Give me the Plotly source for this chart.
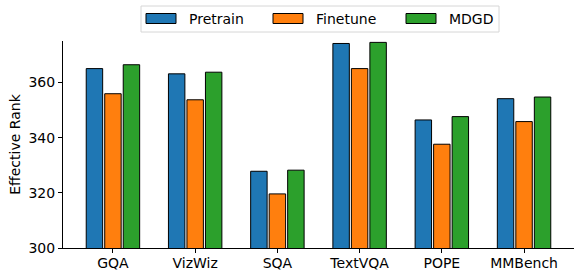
import plotly.graph_objects as go

categories = ["GQA", "VizWiz", "SQA", "TextVQA", "POPE", "MMBench"]
pretrain = [365.0, 363.1, 327.8, 374.1, 346.4, 354.1]
finetune = [355.9, 353.7, 319.6, 365.0, 337.6, 345.8]
mdgd = [366.4, 363.7, 328.2, 374.5, 347.6, 354.7]
yticks = [300, 320, 340, 360]

series = [("Pretrain", pretrain, "#1f77b4", -0.325),
          ("Finetune", finetune, "#ff7f0e", -0.1),
          ("MDGD", mdgd, "#2ca02c", 0.125)]

W, H = 574, 271
L, R, T, B = 63, 0, 41, 23
PW, PH = W - L - R, H - T - B

def px(x):
    return (x - L) / PW

def py(y):
    return (H - B - y) / PH

fig = go.Figure()
for name, vals, color, off in series:
    fig.add_trace(go.Bar(
        x=categories, y=vals, name=name, width=0.2, offset=off,
        marker=dict(color=color, line=dict(color="black", width=1)),
        showlegend=False, hoverinfo="skip",
    ))

shapes = []
annotations = []
# legend box
shapes.append(dict(type="rect", xref="paper", yref="paper",
                   x0=px(141), x1=px(499), y0=py(32), y1=py(6),
                   line=dict(color="#d6d6d6", width=1), fillcolor="white", layer="above"))
legend_x = [146, 273, 406]
for (name, vals, color, off), lx in zip(series, legend_x):
    shapes.append(dict(type="rect", xref="paper", yref="paper",
                       x0=px(lx), x1=px(lx + 30), y0=py(23.5), y1=py(13.5),
                       line=dict(color="black", width=1), fillcolor=color, layer="above"))
    annotations.append(dict(xref="paper", yref="paper", x=px(lx + 41), y=py(19),
                            text=name, showarrow=False, xanchor="left", yanchor="middle",
                            font=dict(size=14, color="black")))

fig.update_layout(
    width=W, height=H,
    margin=dict(l=L, r=R, t=T, b=B, autoexpand=False),
    barmode="overlay",
    plot_bgcolor="white", paper_bgcolor="white",
    font=dict(family="DejaVu Sans", size=14, color="black"),
    showlegend=False,
    shapes=shapes,
    annotations=annotations,
    xaxis=dict(range=[-0.6075, 5.6075], showline=True, linecolor="black", linewidth=1,
               ticks="outside", ticklen=4, tickcolor="black", showgrid=False,
               tickfont=dict(size=14), automargin=False, ticklabelstandoff=-2),
    yaxis=dict(range=[300, 375], showline=True, linecolor="black", linewidth=1,
               ticks="outside", ticklen=4, tickcolor="black", showgrid=False,
               tickvals=yticks, tickfont=dict(size=14), zeroline=False, automargin=False,
               title=dict(text="Effective Rank", font=dict(size=14), standoff=4)),
)

fig.write_html("out.html", config={"displayModeBar": False},
               post_script="document.body.style.margin='0';")
